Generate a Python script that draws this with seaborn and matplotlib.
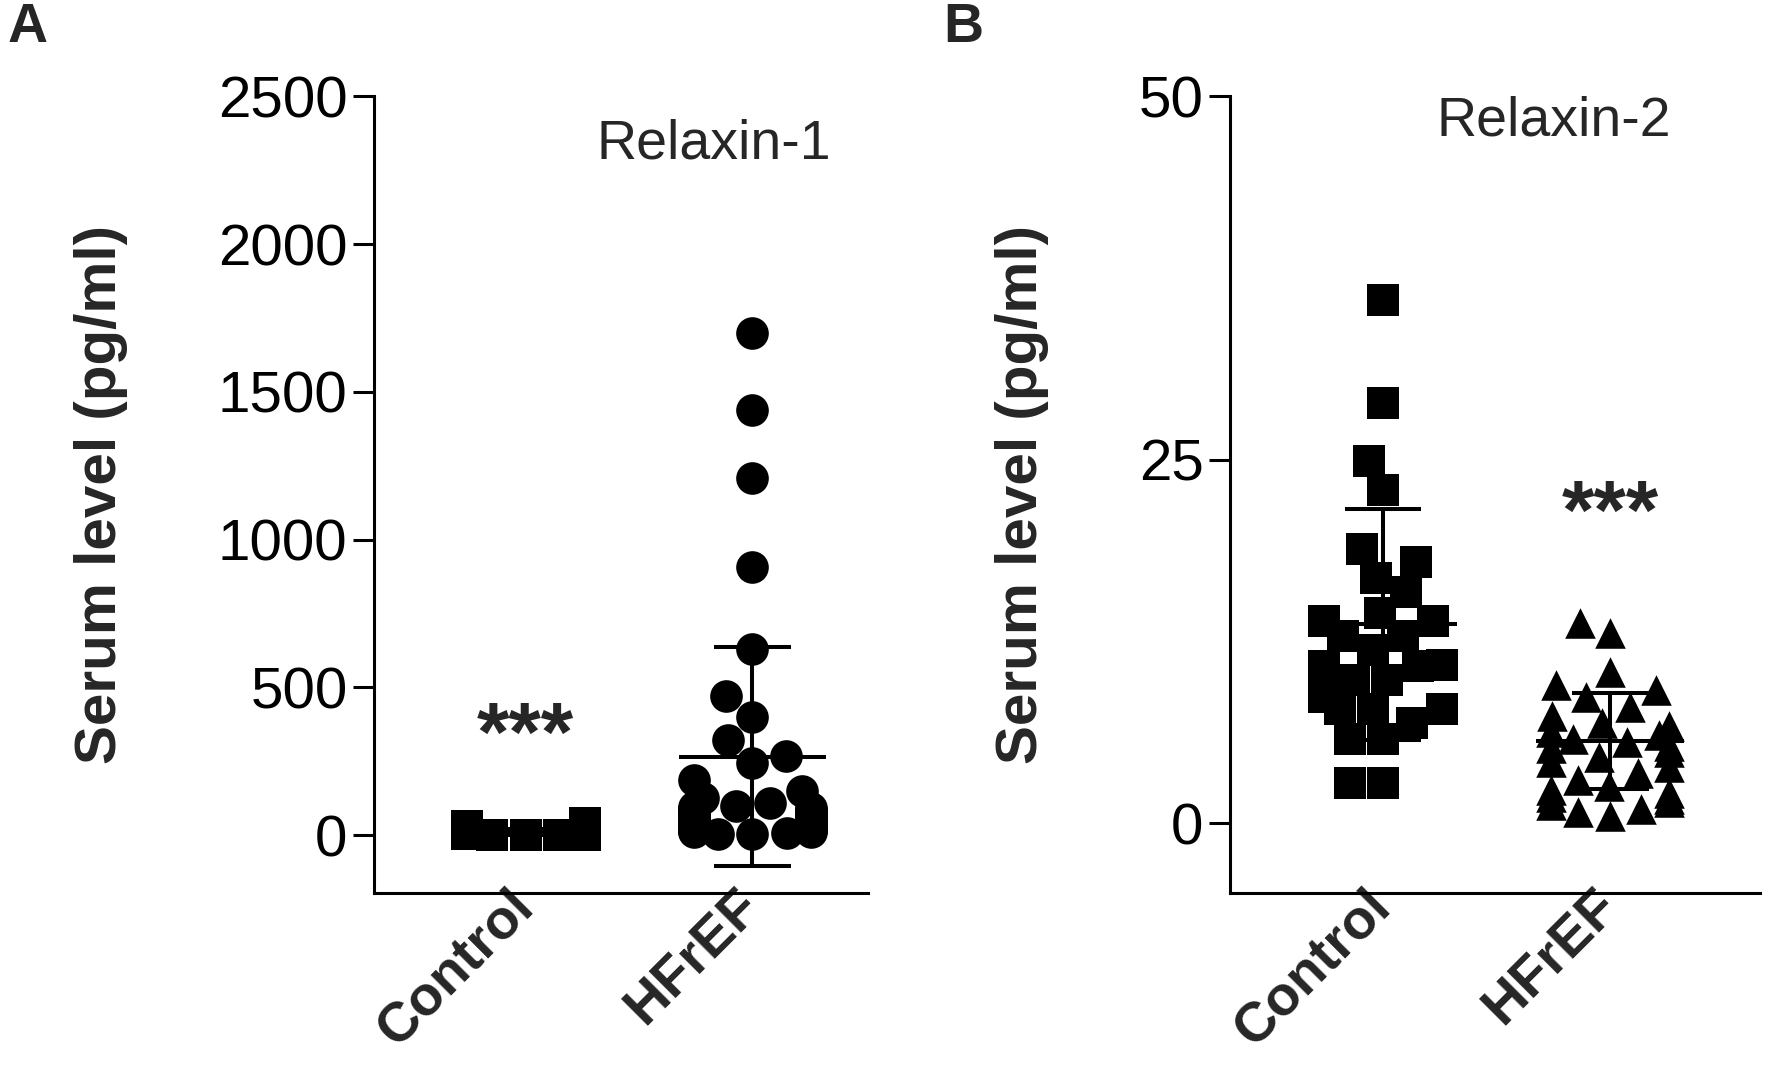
import numpy as np
import pandas as pd
import seaborn as sns
import matplotlib.pyplot as plt

groups = ["Control", "HFrEF"]
group_x = [0, 1.54]   # x position of each group

# Relaxin-1 serum level (pg/ml)
rln1_control = [0, 0, 1, 1, 2, 2, 3, 3, 4, 5, 5, 6, 7, 8, 8, 9, 10, 11, 12, 13,
                14, 15, 18, 22, 30, 40]
rln1_hfref = [1700, 1440, 1210, 907, 631, 470, 400, 321, 266, 244, 186, 150, 126,
              110, 100, 95, 90, 88, 85, 82, 80, 78, 75, 72, 70, 65, 60, 58, 55, 50,
              48, 45, 42, 40, 35, 30, 28, 25, 22, 20, 18, 15, 12, 10, 8, 5, 3]
rln1_mean = [10, 265]
rln1_sd = [10, 370]

# Relaxin-2 serum level (pg/ml)
rln2_control = [36.0, 28.9, 24.9, 22.9, 18.9, 18.0, 16.9, 15.9, 14.5, 13.9, 13.9,
                12.9, 12.9, 11.9, 10.9, 10.8, 10.8, 9.9, 9.9, 8.7, 7.9, 7.9, 7.9,
                6.9, 5.8, 5.8, 2.8, 2.8]
rln2_hfref = [13.8, 13.1, 10.4, 9.5, 9.2, 8.7, 8.0, 7.4, 6.9, 6.7, 6.3, 6.1, 5.8,
              5.6, 5.3, 5.2, 4.9, 4.6, 4.2, 3.9, 3.5, 3.0, 2.6, 2.3, 2.1, 1.8, 1.7,
              1.5, 1.3, 1.0, 0.8, 0.5]
rln2_mean = [13.7, 5.7]
rln2_sd = [7.95, 3.3]

sns.set_theme(style="ticks")
plt.rcParams["font.family"] = ["Liberation Sans", "DejaVu Sans"]

fig = plt.figure(figsize=(17.68, 10.91), dpi=100)
axA = fig.add_axes([0.2115, 0.1815, 0.2794, 0.7301])
axB = fig.add_axes([0.6957, 0.1815, 0.2998, 0.7301])


def draw_panel(ax, ctrl, hf, mean, sd, markers, sizes):
    for gx, vals, m, s in zip(group_x, [ctrl, hf], markers, sizes):
        df = pd.DataFrame({"x": [gx] * len(vals), "value": vals})
        sns.swarmplot(data=df, x="x", y="value", native_scale=True, orient="x",
                      marker=m, color="black", size=s, linewidth=0,
                      warn_thresh=1, ax=ax, zorder=2)
    x = np.array(group_x)
    lo = np.array(mean) - np.array(sd)
    hi = np.array(mean) + np.array(sd)
    ax.hlines(mean, x - 0.5, x + 0.5, color="black", lw=2.9, zorder=3)
    ax.vlines(x, lo, hi, color="black", lw=2.9, zorder=3)
    ax.hlines(lo, x - 0.26, x + 0.26, color="black", lw=2.9, zorder=3)
    ax.hlines(hi, x - 0.26, x + 0.26, color="black", lw=2.9, zorder=3)

    sns.despine(ax=ax)
    for sp in ["left", "bottom"]:
        ax.spines[sp].set_linewidth(2.2)
        ax.spines[sp].set_color("black")
    ax.tick_params(axis="y", length=15, width=2.2, pad=4, labelsize=42, colors="black")
    ax.tick_params(axis="x", length=0, pad=4)
    ax.set_xticks(x)
    ax.set_xticklabels(groups, rotation=45, ha="right", va="center",
                       rotation_mode="anchor", fontsize=40, fontweight="bold")
    ax.set_xlabel("")
    ax.set_ylabel("Serum level (pg/ml)", fontsize=42, fontweight="bold")


draw_panel(axA, rln1_control, rln1_hfref, rln1_mean, rln1_sd, ["s", "o"], [23, 23.5])
axA.set_xlim(-1.032, 2.325)
axA.set_ylim(-196, 2500)
axA.set_yticks([0, 500, 1000, 1500, 2000, 2500])
axA.yaxis.set_label_coords(-0.498, 0.5)
axA.text(0.688, 0.94, "Relaxin-1", transform=axA.transAxes, fontsize=40,
         ha="center", va="center")
axA.text(group_x[0], 250, "***", fontsize=60, fontweight="bold", ha="center",
         va="baseline")

draw_panel(axB, rln2_control, rln2_hfref, rln2_mean, rln2_sd, ["s", "^"], [23, 22])
axB.set_xlim(-1.038, 2.556)
axB.set_ylim(-4.78, 50)
axB.set_yticks([0, 25, 50])
axB.yaxis.set_label_coords(-0.3415, 0.5)
axB.text(0.611, 0.968, "Relaxin-2", transform=axB.transAxes, fontsize=40,
         ha="center", va="center")
axB.text(group_x[1], 19.6, "***", fontsize=60, fontweight="bold", ha="center",
         va="baseline")

fig.text(0.0158, 0.974, "A", fontsize=40, fontweight="bold", ha="center", va="center")
fig.text(0.545, 0.974, "B", fontsize=40, fontweight="bold", ha="center", va="center")

fig.savefig("out.png", dpi=100, facecolor="white")
